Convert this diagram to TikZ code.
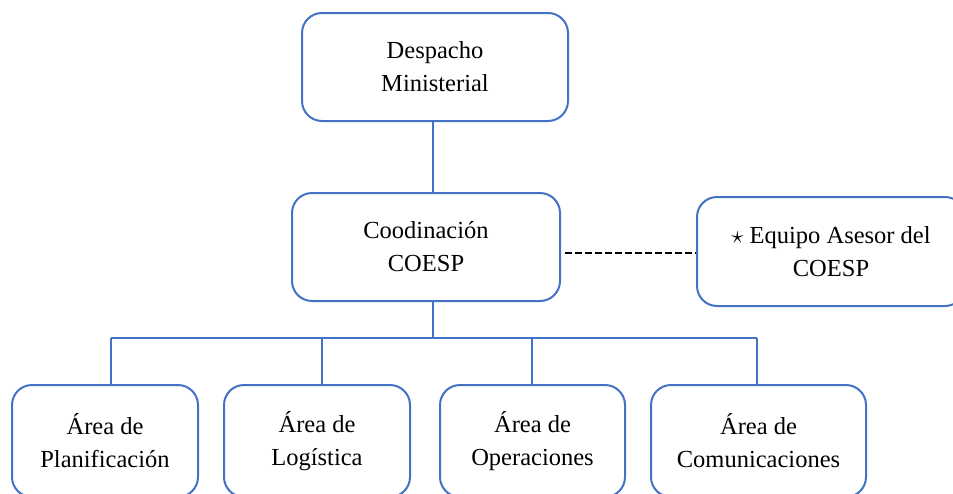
\documentclass[tikz,border=0pt]{standalone}
\usepackage{fontspec}
\setmainfont{Liberation Serif}
\definecolor{boxblue}{HTML}{4472C4}
\tikzset{
  orgbox/.style={draw=boxblue, line width=2pt, rounded corners=20pt, fill=white,
    align=center, inner sep=0pt, font=\fontsize{24.5}{33}\selectfont},
  link/.style={draw=boxblue, line width=2pt},
  dashlink/.style={draw=black, line width=2.5pt, dash pattern=on 7pt off 3pt}
}
\begin{document}
\begin{tikzpicture}[x=1pt,y=-1pt]
\clip (0,0) rectangle (953,493);
\fill[white] (0,0) rectangle (953,493);
\node[orgbox, minimum width=266pt, minimum height=108pt] (desp) at (435,67) {Despacho\\Ministerial};
\node[orgbox, minimum width=268pt, minimum height=108pt] (coord) at (426,247) {Coodinación\\COESP};
\node[orgbox, minimum width=268pt, minimum height=109pt] (equipo) at (831,251.5) {$\star$ Equipo Asesor del\\COESP};
\node[orgbox, minimum width=186pt, minimum height=112pt] (plan) at (105,441) {Área de\\Planificación};
\node[orgbox, minimum width=186pt, minimum height=112pt] (log) at (317,441) {Área de\\Logística};
\node[orgbox, minimum width=185pt, minimum height=112pt] (oper) at (532.5,441) {Área de\\Operaciones};
\node[orgbox, minimum width=215pt, minimum height=112pt] (comm) at (758.5,441) {Área de\\Comunicaciones};
\coordinate (top) at (433,0);
\coordinate (hub) at (433,338);
\coordinate (j1) at (111,338);
\coordinate (j2) at (322,338);
\coordinate (j3) at (532,338);
\coordinate (j4) at (757,338);
\coordinate (dl) at (0,253);
\draw[link] (top |- desp.south) -- (top |- coord.north);
\draw[link] (top |- coord.south) -- (hub);
\draw[link] (j1) -- (j4);
\draw[link] (j1) -- (j1 |- plan.north);
\draw[link] (j2) -- (j2 |- log.north);
\draw[link] (j3) -- (j3 |- oper.north);
\draw[link] (j4) -- (j4 |- comm.north);
\draw[dashlink] ([xshift=4pt]coord.east |- dl) -- (equipo.west |- dl);
\end{tikzpicture}
\end{document}
